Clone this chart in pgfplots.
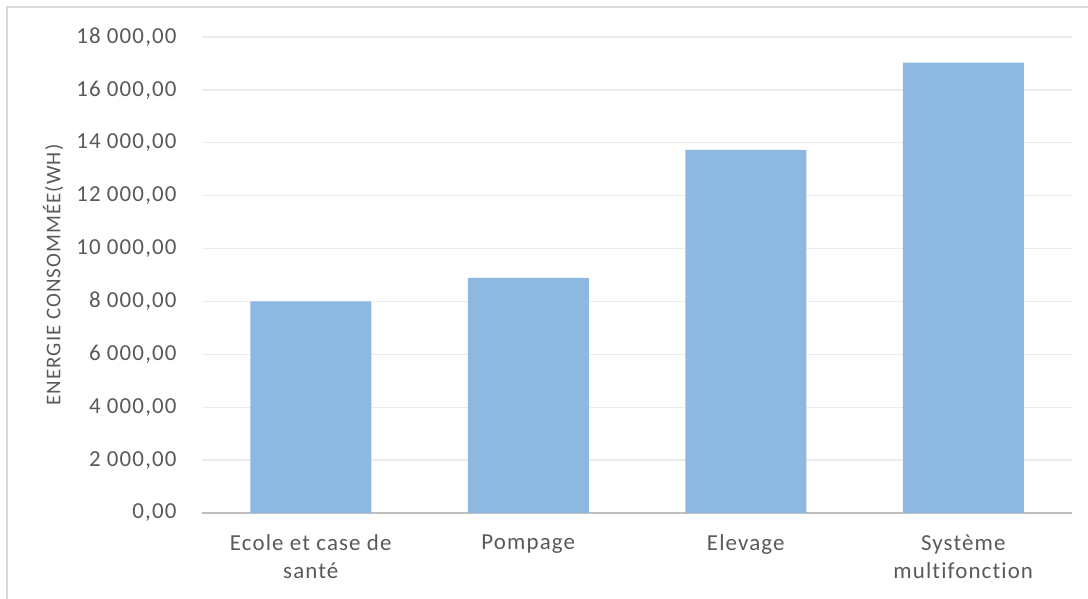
\documentclass[border=0pt]{standalone}
\usepackage{pgfplots}
\pgfplotsset{compat=1.18}
\usepackage{fontspec}
\setmainfont{Carlito}[Ligatures=NoCommon, LetterSpace=5]
\definecolor{barblue}{RGB}{141,184,224}
\definecolor{txtgray}{RGB}{89,89,89}
\definecolor{gridgray}{RGB}{236,236,236}
\definecolor{axgray}{RGB}{191,191,191}
\definecolor{framegray}{RGB}{217,217,217}
\begin{document}
\begin{tikzpicture}[x=1bp,y=1bp]
\useasboundingbox (0,0) rectangle (1088,599);
\draw[framegray, line width=1.5bp] (7,0) -- (7,592) -- (1088,592);
\begin{axis}[
  at={(202bp,86bp)}, anchor=south west,
  scale only axis, width=870bp, height=476bp,
  xmin=-0.5, xmax=3.5, ymin=0, ymax=18000,
  ytick={0,2000,...,18000},
  scaled y ticks=false,
  xtick={0,1,2,3},
  xticklabels={Ecole et case de\\santé, Pompage, Elevage, Système\\multifonction},
  axis x line*=bottom, axis y line*=left,
  x axis line style={axgray, line width=2bp, -},
  y axis line style={draw=none},
  major tick length=0pt,
  ymajorgrids, grid style={gridgray, line width=1.3bp},
  font=\fontsize{23}{28}\selectfont,
  tick label style={txtgray},
  xticklabel style={align=center, anchor=north, yshift=-18bp},
  yticklabel style={anchor=east, xshift=-22bp},
  yticklabel={\pgfmathprintnumber{\tick}},
  /pgf/number format/.cd, fixed, fixed zerofill, precision=2, use comma, 1000 sep={~}, assume math mode=true,
  /pgfplots/.cd,
  ylabel={ENERGIE CONSOMMÉE(WH)},
  ylabel style={txtgray, at={(axis description cs:-0.1713,0.5)}, anchor=center, font=\fontsize{21}{24}\selectfont},
  clip=false,
]
\addplot[ybar, bar width=121bp, fill=barblue, draw=none] coordinates {(0,8000) (1,8890) (2,13730) (3,17030)};
\end{axis}
\end{tikzpicture}
\end{document}
